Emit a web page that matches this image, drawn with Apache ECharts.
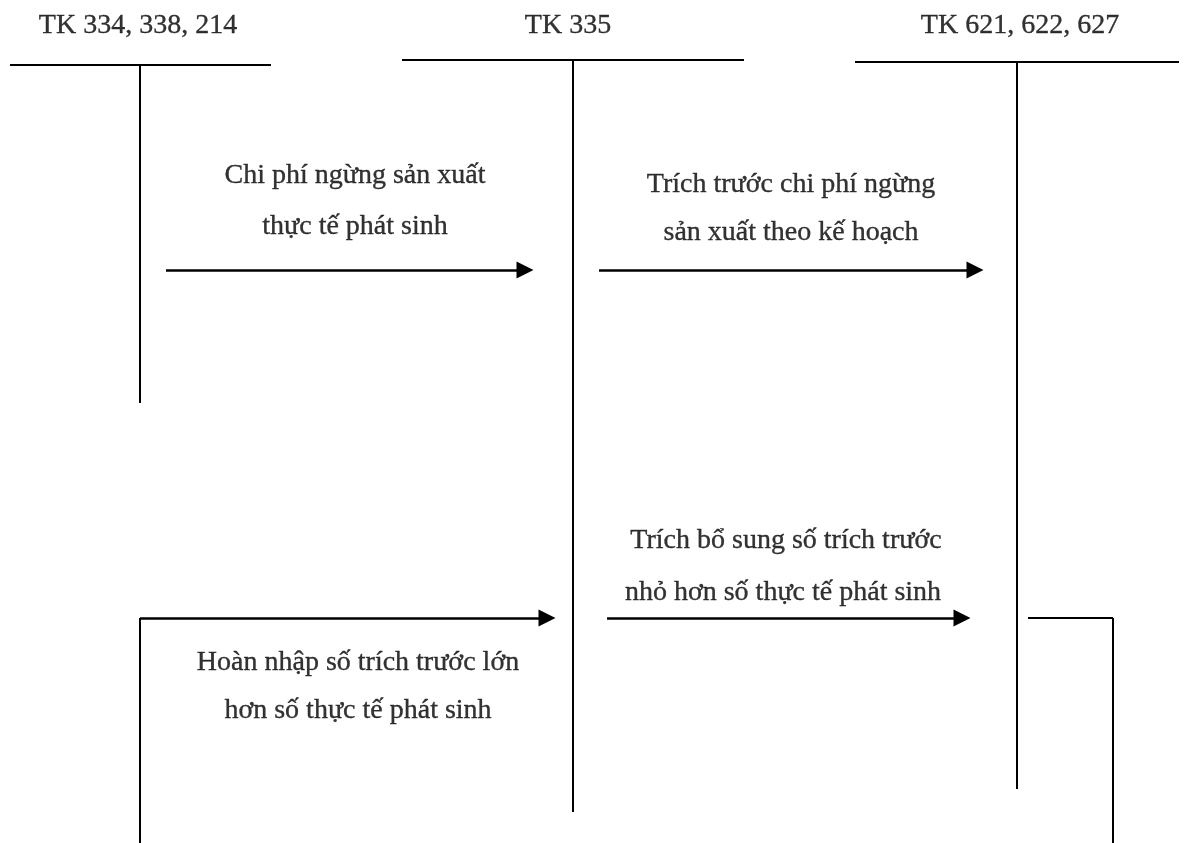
<!DOCTYPE html>
<html>
<head>
<meta charset="utf-8">
<script src="https://cdn.jsdelivr.net/npm/echarts@6/dist/echarts.min.js"></script>
<style>
html,body{margin:0;padding:0;background:#ffffff;}
#chart{width:1187px;height:843px;}
</style>
</head>
<body>
<div id="chart"></div>
<script>
// Account titles and their anchor points (diagram units = page pixels)
const accountTitles = ['TK 334, 338, 214', 'TK 335', 'TK 621, 622, 627'];
const titlePoints = [[138, 23], [568, 23], [1020, 23]];

// T-account bars: top horizontal rules and vertical stems
const tRules = [
  [[10, 65], [271, 65]],
  [[402, 60], [744, 60]],
  [[855, 62], [1179, 62]]
];
const tStems = [
  [[140, 65], [140, 403]],
  [[573, 60], [573, 812]],
  [[1017, 62], [1017, 789]]
];

// Entry arrows (last point is the arrow tip)
const entryArrows = [
  [[166, 270], [525, 270]],
  [[599, 270], [975, 270]],
  [[140, 618], [547, 618]],
  [[607, 618], [962, 618]]
];

// Plain connector segments
const connectors = [
  [[140, 843], [140, 618]],
  [[1028, 618], [1113, 618]],
  [[1113, 618], [1113, 843]]
];

// Entry notes, one row per text line
const noteLines = [
  'Chi phí ngừng sản xuất',
  'thực tế phát sinh',
  'Trích trước chi phí ngừng',
  'sản xuất theo kế hoạch',
  'Trích bổ sung số trích trước',
  'nhỏ hơn số thực tế phát sinh',
  'Hoàn nhập số trích trước lớn',
  'hơn số thực tế phát sinh'
];
const notePoints = [
  [355, 173], [355, 224],
  [791, 182], [791, 230],
  [786, 538], [783, 590],
  [358, 660], [358, 708]
];

const FONT = '"Liberation Serif", "Times New Roman", serif';

const chart = echarts.init(document.getElementById('chart'), null, {renderer: 'canvas'});

function textPoints(names, pts) {
  return names.map((n, i) => ({name: n, value: pts[i]}));
}

const textLabel = {
  show: true, position: 'inside', formatter: '{b}', offset: [0, 2.5],
  color: '#000', fontFamily: FONT, fontSize: 28,
  textBorderColor: '#000', textBorderWidth: 0.35
};

const option = {
  backgroundColor: '#ffffff',
  animation: false,
  grid: {left: 0, right: 0, top: 0, bottom: 0, containLabel: false},
  xAxis: {type: 'value', min: 0, max: 1187, show: false},
  yAxis: {type: 'value', min: 0, max: 843, inverse: true, show: false},
  series: [
    {
      type: 'lines',
      coordinateSystem: 'cartesian2d',
      symbol: ['none', 'none'],
      lineStyle: {color: '#000', width: 2, opacity: 1, curveness: 0},
      data: tRules.concat(tStems).map(c => ({coords: c}))
    },
    {
      type: 'lines',
      coordinateSystem: 'cartesian2d',
      symbol: ['none', 'none'],
      lineStyle: {color: '#000', width: 2, opacity: 1, curveness: 0},
      data: connectors.map(c => ({coords: c}))
    },
    {
      type: 'lines',
      coordinateSystem: 'cartesian2d',
      symbol: ['none', 'triangle'],
      symbolSize: [0, 17],
      lineStyle: {color: '#000', width: 2.5, opacity: 1, curveness: 0},
      itemStyle: {color: '#000'},
      data: entryArrows.map(c => ({coords: c}))
    },
    {
      type: 'scatter',
      symbolSize: 0,
      silent: true,
      label: textLabel,
      data: textPoints(accountTitles, titlePoints)
    },
    {
      type: 'scatter',
      symbolSize: 0,
      silent: true,
      label: textLabel,
      data: textPoints(noteLines, notePoints)
    }
  ]
};
chart.setOption(option);
</script>
</body>
</html>
